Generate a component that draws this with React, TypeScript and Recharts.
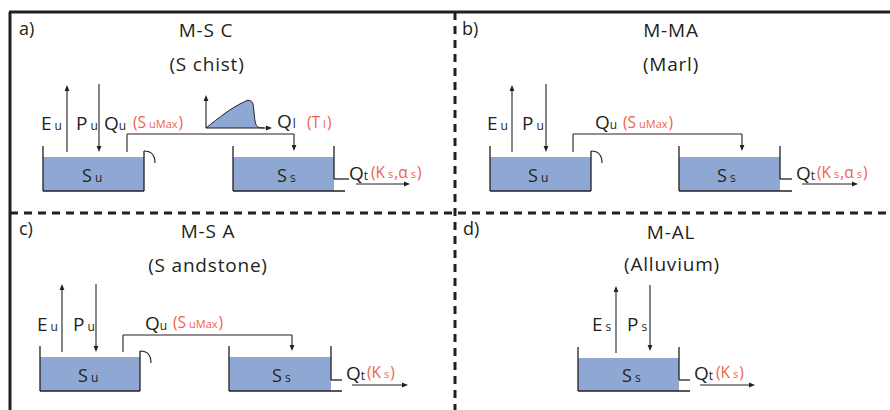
import { ComposedChart, XAxis, YAxis, Area, ReferenceArea, ReferenceLine, ReferenceDot } from "recharts";

const INK = "#231F20";
const RED = "#EF5F4E";
const WATER = "#8FA8D3";
const FONT = "'Open Sans', 'Noto Sans', sans-serif";

// diagram units: the figure is drawn on a 890 x 410 grid (y grows downward)
// water in each tank: [x1, x2, yTop, yBottom]
const waterBoxes = [
  [43, 144, 157, 191], [233, 334, 157, 191],
  [490, 591, 157, 191], [679, 780, 157, 191],
  [40, 140, 357, 391], [229, 331, 357, 391],
  [578, 679, 358, 391],
];

// tank walls, outlets: polylines x,y,x,y...
const walls = [
  [43, 146, 43, 191, 144, 191, 144, 151],
  [233, 146, 233, 191, 345, 191], [334, 146, 334, 179, 349, 179],
  [490, 146, 490, 191, 591, 191, 591, 151],
  [679, 146, 679, 191, 792, 191], [780, 146, 780, 179, 792, 179],
  [40, 346, 40, 391, 140, 391, 140, 351],
  [229, 346, 229, 391, 342, 391], [331, 346, 331, 380, 342, 380],
  [578, 347, 578, 391, 690, 391], [679, 347, 679, 380, 690, 380],
];

// overflow spouts on the upper tanks
const spouts = [
  [144, 151, 155, 163],
  [591, 151, 602, 163],
  [140, 351, 151, 363],
];

// fluxes, arrow head at the last point
const arrows = [
  [67, 152, 67, 85], [99, 84, 99, 152], [127, 152, 127, 134, 294, 134, 294, 151], [356, 184, 410, 184],
  [206, 128, 206, 95], [206, 128, 272, 128],
  [512, 152, 512, 85], [546, 84, 546, 152], [573, 152, 573, 134, 742, 134, 742, 151], [802, 184, 858, 184],
  [62, 352, 62, 284], [96, 284, 96, 352], [123, 352, 123, 335, 292, 335, 292, 351], [352, 385, 408, 385],
  [616, 353, 616, 286], [650, 285, 650, 351], [700, 385, 755, 385],
];

// unit hydrograph of the lateral flow (panel a)
const hydrograph = [
  { x: 206, y: 128 }, { x: 244, y: 102 }, { x: 248, y: 100.3 }, { x: 251, y: 101 },
  { x: 253, y: 104 }, { x: 254, y: 112 }, { x: 255, y: 121 }, { x: 257, y: 126 },
  { x: 260, y: 127.7 }, { x: 264, y: 128 },
];

const frame = [[9, 12, 890, 12], [10, 12, 10, 410]];
const dividers = [[10, 213, 890, 213], [455, 12, 455, 410]];

const panelTags = [
  { x: 19, y: 35, t: "a)" }, { x: 462, y: 35, t: "b)" },
  { x: 19, y: 235, t: "c)" }, { x: 463, y: 235, t: "d)" },
];

const titles = [
  { x: 206, y: 37, t: "M-S C" }, { x: 207, y: 71, t: "(S chist)" },
  { x: 671, y: 37, t: "M-MA" }, { x: 671, y: 71, t: "(Marl)" },
  { x: 208, y: 238, t: "M-S A" }, { x: 208, y: 272, t: "(S andstone)" },
  { x: 671, y: 239, t: "M-AL" }, { x: 672, y: 271, t: "(Alluvium)" },
];

// even parts normal size, odd parts subscript
type Lbl = { x: number; y: number; p: string[]; k: "flux" | "par" | "store"; gap?: number };
const labels: Lbl[] = [
  { x: 41, y: 130, p: ["E", "u"], k: "flux" },
  { x: 76, y: 130, p: ["P", "u"], k: "flux" },
  { x: 104, y: 130, p: ["Q", "u"], k: "flux", gap: 0 },
  { x: 133, y: 128, p: ["(S", "uMax", ")"], k: "par" },
  { x: 277, y: 128, p: ["Q", "l"], k: "flux", gap: 1 },
  { x: 307, y: 128, p: ["(T", "l", ")"], k: "par" },
  { x: 82, y: 182, p: ["S", "u"], k: "store" },
  { x: 277, y: 182, p: ["S", "s"], k: "store" },
  { x: 349, y: 180, p: ["Q", "t"], k: "flux", gap: 0 },
  { x: 371, y: 178, p: ["(K", "s", ",α", "s", ")"], k: "par" },

  { x: 487, y: 130, p: ["E", "u"], k: "flux" },
  { x: 522, y: 130, p: ["P", "u"], k: "flux" },
  { x: 595, y: 129, p: ["Q", "u"], k: "flux", gap: 0 },
  { x: 623, y: 128, p: ["(S", "uMax", ")"], k: "par" },
  { x: 528, y: 182, p: ["S", "u"], k: "store" },
  { x: 717, y: 182, p: ["S", "s"], k: "store" },
  { x: 796, y: 180, p: ["Q", "t"], k: "flux", gap: 0 },
  { x: 817, y: 178, p: ["(K", "s", ",α", "s", ")"], k: "par" },

  { x: 37, y: 331, p: ["E", "u"], k: "flux" },
  { x: 73, y: 331, p: ["P", "u"], k: "flux" },
  { x: 145, y: 330, p: ["Q", "u"], k: "flux", gap: 0 },
  { x: 173, y: 328, p: ["(S", "uMax", ")"], k: "par" },
  { x: 78, y: 382, p: ["S", "u"], k: "store" },
  { x: 272, y: 382, p: ["S", "s"], k: "store" },
  { x: 346, y: 380, p: ["Q", "t"], k: "flux", gap: 0 },
  { x: 367, y: 378, p: ["(K", "s", ")"], k: "par" },

  { x: 592, y: 331, p: ["E", "s"], k: "flux" },
  { x: 627, y: 331, p: ["P", "s"], k: "flux" },
  { x: 622, y: 382, p: ["S", "s"], k: "store" },
  { x: 694, y: 380, p: ["Q", "t"], k: "flux", gap: 0 },
  { x: 716, y: 378, p: ["(K", "s", ")"], k: "par" },
];

const sizes = {
  flux: { main: 19, sub: 12, color: INK },
  par: { main: 15.5, sub: 11, color: RED },
  store: { main: 18, sub: 12, color: INK },
};

const toSegments = (pts: number[]) => {
  const out: number[][] = [];
  for (let i = 0; i + 3 < pts.length; i += 2) out.push([pts[i], pts[i + 1], pts[i + 2], pts[i + 3]]);
  return out;
};

const seg = (s: number[]) => [{ x: s[0], y: s[1] }, { x: s[2], y: s[3] }] as any;

const ArrowHead = (p: any) => {
  const { x1, y1, x2, y2 } = p;
  const a = Math.atan2(y2 - y1, x2 - x1);
  const len = 6;
  const half = 2.4;
  const bx = x2 - len * Math.cos(a);
  const by = y2 - len * Math.sin(a);
  const nx = -Math.sin(a) * half;
  const ny = Math.cos(a) * half;
  return (
    <g>
      <line x1={x1} y1={y1} x2={bx} y2={by} stroke={INK} strokeWidth={1.1} />
      <polygon points={`${x2},${y2} ${bx + nx},${by + ny} ${bx - nx},${by - ny}`} fill={INK} />
    </g>
  );
};

const Spout = (p: any) => (
  <path d={`M${p.x1},${p.y1} Q${p.x2},${p.y1} ${p.x2},${p.y2}`} fill="none" stroke={INK} strokeWidth={1.1} />
);

const plainText = (t: string, size: number, anchor: "start" | "middle", spacing: number) => (p: any) => (
  <text x={p.cx} y={p.cy} fill={INK} fontSize={size} fontFamily={FONT} textAnchor={anchor} letterSpacing={spacing}>
    {t}
  </text>
);

const labelText = (l: Lbl) => (p: any) => {
  const s = sizes[l.k];
  return (
    <text x={p.cx} y={p.cy} fill={s.color} fontFamily={FONT}>
      {l.p.map((part, i) => (
        <tspan key={i} fontSize={i % 2 ? s.sub : s.main} dx={i === 0 ? 0 : i % 2 ? (l.gap ?? 3) : 1}>
          {part}
        </tspan>
      ))}
    </text>
  );
};

export default function App() {
  return (
    <div style={{ position: "absolute", left: 0, top: 0, width: 890, height: 410, background: "#fff" }}>
      <ComposedChart width={890} height={410} margin={{ top: 0, right: 0, bottom: 0, left: 0 }}>
        <XAxis type="number" dataKey="x" domain={[0, 890]} hide allowDataOverflow />
        <YAxis type="number" domain={[0, 410]} reversed hide allowDataOverflow />

        {waterBoxes.map((b, i) => (
          <ReferenceArea key={`w${i}`} x1={b[0]} x2={b[1]} y1={b[2]} y2={b[3]} fill={WATER} fillOpacity={1} stroke="none" ifOverflow="visible" />
        ))}

        <Area
          data={hydrograph}
          dataKey="y"
          type="monotone"
          baseValue={128}
          fill={WATER}
          fillOpacity={1}
          stroke={INK}
          strokeWidth={1}
          dot={false}
          activeDot={false}
          isAnimationActive={false}
        />

        {walls.flatMap((w, i) =>
          toSegments(w).map((s, j) => (
            <ReferenceLine key={`t${i}-${j}`} segment={seg(s)} stroke={INK} strokeWidth={1.3} ifOverflow="visible" />
          ))
        )}

        {spouts.map((s, i) => (
          <ReferenceLine key={`s${i}`} segment={seg(s)} shape={Spout} ifOverflow="visible" />
        ))}

        {arrows.flatMap((a, i) => {
          const parts = toSegments(a);
          return parts.map((s, j) =>
            j === parts.length - 1 ? (
              <ReferenceLine key={`a${i}-${j}`} segment={seg(s)} shape={ArrowHead} ifOverflow="visible" />
            ) : (
              <ReferenceLine key={`a${i}-${j}`} segment={seg(s)} stroke={INK} strokeWidth={1.1} ifOverflow="visible" />
            )
          );
        })}

        {frame.map((f, i) => (
          <ReferenceLine key={`f${i}`} segment={seg(f)} stroke={INK} strokeWidth={3} ifOverflow="visible" />
        ))}
        {dividers.map((d, i) => (
          <ReferenceLine key={`d${i}`} segment={seg(d)} stroke={INK} strokeWidth={3} strokeDasharray="8 6" ifOverflow="visible" />
        ))}

        {panelTags.map((t, i) => (
          <ReferenceDot key={`p${i}`} x={t.x} y={t.y} ifOverflow="visible" shape={plainText(t.t, 18, "start", 0)} />
        ))}
        {titles.map((t, i) => (
          <ReferenceDot key={`h${i}`} x={t.x} y={t.y} ifOverflow="visible" shape={plainText(t.t, 19, "middle", 0.8)} />
        ))}
        {labels.map((l, i) => (
          <ReferenceDot key={`l${i}`} x={l.x} y={l.y} ifOverflow="visible" shape={labelText(l)} />
        ))}
      </ComposedChart>
    </div>
  );
}
